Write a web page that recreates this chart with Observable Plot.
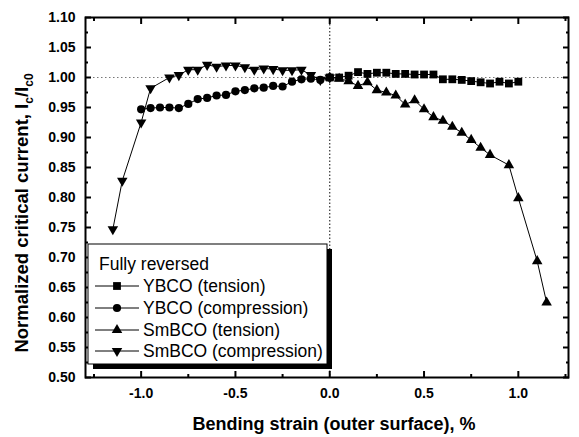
<!DOCTYPE html>
<html>
<head>
<meta charset="utf-8">
<script src="https://cdn.jsdelivr.net/npm/d3@7"></script>
<script src="https://cdn.jsdelivr.net/npm/@observablehq/plot@0.6"></script>
<style>
  html, body { margin: 0; padding: 0; background: #fff; }
  svg { display: block; }
</style>
</head>
<body>
<div id="chart"></div>
<script>
// ---- data ----
const ybcoTensionX = [0.00, 0.05, 0.10, 0.15, 0.20, 0.25, 0.30, 0.35, 0.40, 0.45, 0.50, 0.55, 0.60, 0.65, 0.70, 0.75, 0.80, 0.85, 0.90, 0.95, 1.00];
const ybcoTensionY = [1.000, 1.000, 1.003, 1.009, 1.006, 1.008, 1.008, 1.006, 1.006, 1.005, 1.005, 1.005, 0.997, 0.997, 0.996, 0.994, 0.992, 0.990, 0.993, 0.990, 0.993];

const ybcoCompX = [-1.00, -0.95, -0.90, -0.85, -0.80, -0.75, -0.70, -0.65, -0.60, -0.55, -0.50, -0.45, -0.40, -0.35, -0.30, -0.25, -0.20, -0.15, -0.10, -0.05, 0.00];
const ybcoCompY = [0.947, 0.949, 0.950, 0.950, 0.949, 0.956, 0.964, 0.966, 0.970, 0.971, 0.977, 0.979, 0.982, 0.983, 0.986, 0.985, 0.993, 0.997, 0.998, 0.996, 1.000];

const smbcoTensionX = [0.00, 0.05, 0.10, 0.15, 0.20, 0.25, 0.30, 0.35, 0.40, 0.45, 0.50, 0.55, 0.60, 0.65, 0.70, 0.75, 0.80, 0.85, 0.95, 1.00, 1.10, 1.15];
const smbcoTensionY = [1.000, 0.998, 0.994, 0.986, 0.992, 0.979, 0.975, 0.970, 0.955, 0.962, 0.947, 0.934, 0.928, 0.918, 0.908, 0.896, 0.883, 0.871, 0.854, 0.799, 0.694, 0.625];

const smbcoCompX = [-1.15, -1.10, -1.00, -0.95, -0.85, -0.80, -0.75, -0.70, -0.65, -0.60, -0.55, -0.50, -0.45, -0.40, -0.35, -0.30, -0.25, -0.20, -0.15, -0.10, -0.05, 0.00];
const smbcoCompY = [0.747, 0.828, 0.925, 0.982, 1.000, 1.004, 1.013, 1.013, 1.021, 1.018, 1.020, 1.020, 1.017, 1.013, 1.015, 1.014, 1.012, 1.012, 1.013, 1.004, 0.996, 1.000];

const seriesNames = ["YBCO (tension)", "YBCO (compression)", "SmBCO (tension)", "SmBCO (compression)"];
const legendTitle = "Fully reversed";

const xMajorTicks = [-1.0, -0.5, 0.0, 0.5, 1.0];
const xMinorTicks = [-1.25, -0.75, -0.25, 0.25, 0.75, 1.25];
const yMajorTicks = [0.50, 0.55, 0.60, 0.65, 0.70, 0.75, 0.80, 0.85, 0.90, 0.95, 1.00, 1.05, 1.10];
const yMinorTicks = [0.525, 0.575, 0.625, 0.675, 0.725, 0.775, 0.825, 0.875, 0.925, 0.975, 1.025, 1.075];

const xTitle = "Bending strain (outer surface), %";

// ---- build table ----
const zip = (xs, ys) => xs.map((x, i) => ({x, y: ys[i]}));
const sYT = zip(ybcoTensionX, ybcoTensionY);
const sYC = zip(ybcoCompX, ybcoCompY);
const sST = zip(smbcoTensionX, smbcoTensionY);
const sSC = zip(smbcoCompX, smbcoCompY);

const FONT = "'Liberation Sans', Arial, Helvetica, sans-serif";
const lineOpts = {x: "x", y: "y", stroke: "#000", strokeWidth: 1};

const chart = Plot.plot({
  width: 579,
  height: 437,
  marginLeft: 85,
  marginRight: 11,
  marginTop: 17,
  marginBottom: 60,
  style: {fontFamily: FONT, background: "#fff", color: "#000"},
  x: {domain: [-1.295, 1.266]},
  y: {domain: [0.5, 1.1]},
  marks: [
    Plot.ruleY([1.0], {stroke: "#777", strokeWidth: 1, strokeDasharray: "1.5,2.5"}),
    Plot.ruleX([0.0], {stroke: "#333", strokeWidth: 1.2, strokeDasharray: "1.5,2"}),
    Plot.line(sYT, lineOpts),
    Plot.line(sYC, lineOpts),
    Plot.line(sST, lineOpts),
    Plot.line(sSC, lineOpts),
    Plot.dot(sYT, {x: "x", y: "y", symbol: "square", r: 4.4, fill: "#000", stroke: "none"}),
    Plot.dot(sYC, {x: "x", y: "y", symbol: "circle", r: 4.1, fill: "#000", stroke: "none"}),
    Plot.dot(sST, {x: "x", y: "y", symbol: "triangle", r: 3.9, fill: "#000", stroke: "none"}),
    Plot.dot(sSC, {x: "x", y: "y", symbol: "triangle", rotate: 180, r: 3.9, fill: "#000", stroke: "none"}),
    // ticks (inward)
    Plot.axisX({anchor: "bottom", ticks: xMajorTicks, tickSize: -6, tickFormat: () => "", label: null, strokeWidth: 2}),
    Plot.axisX({anchor: "bottom", ticks: xMinorTicks, tickSize: -3, tickFormat: () => "", label: null, strokeWidth: 2}),
    Plot.axisX({anchor: "top", ticks: xMajorTicks, tickSize: -6, tickFormat: () => "", label: null, strokeWidth: 2}),
    Plot.axisX({anchor: "top", ticks: xMinorTicks, tickSize: -3, tickFormat: () => "", label: null, strokeWidth: 2}),
    Plot.axisY({anchor: "left", ticks: yMajorTicks, tickSize: -6, tickFormat: () => "", label: null, strokeWidth: 2}),
    Plot.axisY({anchor: "left", ticks: yMinorTicks, tickSize: -3, tickFormat: () => "", label: null, strokeWidth: 2}),
    Plot.axisY({anchor: "right", ticks: yMajorTicks, tickSize: -6, tickFormat: () => "", label: null, strokeWidth: 2}),
    Plot.axisY({anchor: "right", ticks: yMinorTicks, tickSize: -3, tickFormat: () => "", label: null, strokeWidth: 2}),
    // tick labels
    Plot.axisX({anchor: "bottom", ticks: xMajorTicks, tickSize: 0, tickPadding: 11, tickFormat: d => d.toFixed(1), label: null, fontSize: 14, fontWeight: "bold"}),
    Plot.axisY({anchor: "left", ticks: yMajorTicks, tickSize: 0, tickPadding: 10, tickFormat: d => d.toFixed(2), label: null, fontSize: 14, fontWeight: "bold"}),
    Plot.frame({stroke: "#000", strokeWidth: 2})
  ]
});

document.getElementById("chart").appendChild(chart);

// ---- titles & legend (drawn into the same SVG) ----
const svg = d3.select(chart);

svg.append("text")
  .attr("x", 334).attr("y", 430)
  .attr("text-anchor", "middle")
  .attr("font-family", FONT).attr("font-size", 18).attr("font-weight", "bold")
  .attr("fill", "#000")
  .text(xTitle);

const yt = svg.append("text")
  .attr("transform", "translate(28,213) rotate(-90)")
  .attr("text-anchor", "middle")
  .attr("font-family", FONT).attr("font-size", 18.5).attr("font-weight", "bold")
  .attr("fill", "#000");
yt.append("tspan").text("Normalized critical current, I");
yt.append("tspan").attr("font-size", 12).attr("dy", 5).text("c");
yt.append("tspan").attr("dy", -5).text("/I");
yt.append("tspan").attr("font-size", 12).attr("dy", 5).text("c0");

// legend box
const L = {x0: 88, y0: 244, x1: 327, y1: 364};
const lg = svg.append("g").attr("text-anchor", "start");
lg.append("rect").attr("x", L.x0 + 5).attr("y", L.y0 + 5)
  .attr("width", L.x1 - L.x0).attr("height", L.y1 - L.y0).attr("fill", "#000");
lg.append("rect").attr("x", L.x0).attr("y", L.y0)
  .attr("width", L.x1 - L.x0).attr("height", L.y1 - L.y0)
  .attr("fill", "#fff").attr("stroke", "#000").attr("stroke-width", 1);
lg.append("text").attr("x", 99).attr("y", 264).attr("dy", "0.35em")
  .attr("text-anchor", "start")
  .attr("font-family", FONT).attr("font-size", 17.5).attr("fill", "#000")
  .text(legendTitle);

const symTypes = [d3.symbolSquare, d3.symbolCircle, d3.symbolTriangle, d3.symbolTriangle];
const symR = [4.4, 4.1, 3.9, 3.9];
const symRot = [0, 0, 0, 180];
const rowY = [286, 308, 330, 351];
seriesNames.forEach((name, i) => {
  const y = rowY[i];
  lg.append("line").attr("x1", 95).attr("x2", 139).attr("y1", y).attr("y2", y)
    .attr("stroke", "#000").attr("stroke-width", 1);
  lg.append("path")
    .attr("d", d3.symbol(symTypes[i], Math.PI * symR[i] * symR[i])())
    .attr("transform", `translate(117,${y}) rotate(${symRot[i]})`)
    .attr("fill", "#000");
  lg.append("text").attr("x", 143).attr("y", y).attr("dy", "0.35em")
    .attr("text-anchor", "start")
    .attr("font-family", FONT).attr("font-size", 17.5).attr("fill", "#000")
    .text(name);
});
</script>
</body>
</html>
